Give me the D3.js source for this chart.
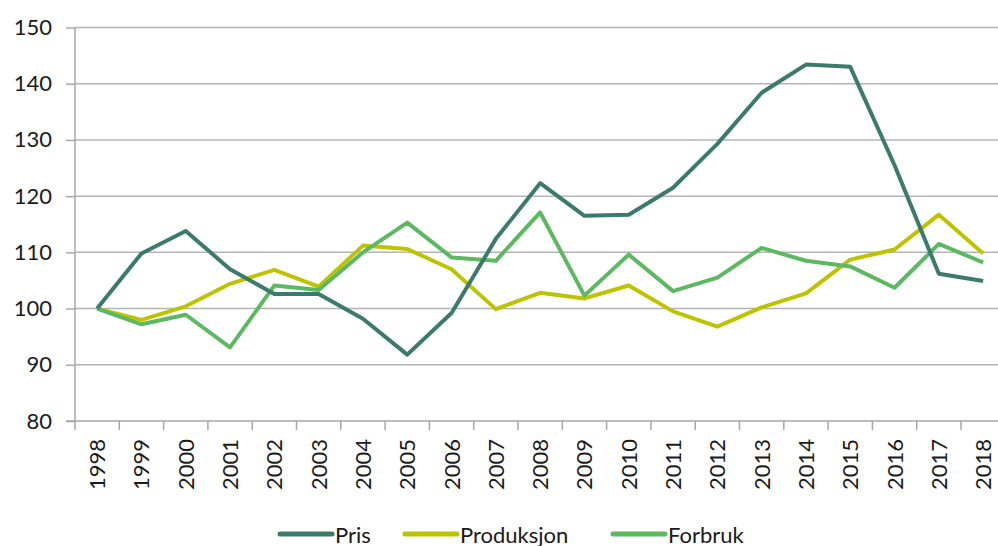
<!DOCTYPE html>
<html>
<head>
<meta charset="utf-8">
<script src="https://cdn.jsdelivr.net/npm/d3@7"></script>
<style>
  body { margin: 0; background: #fff; }
  svg text { font-family: Lato, "Noto Sans", sans-serif; fill: #1a1a1a; }
</style>
</head>
<body>
<div class="chart"></div>
<script>
var years = ["1998","1999","2000","2001","2002","2003","2004","2005","2006","2007","2008",
  "2009","2010","2011","2012","2013","2014","2015","2016","2017","2018"];

var pris = [100, 109.8, 113.8, 107.0, 102.6, 102.6, 98.2, 91.8, 99.2, 112.4, 122.3,
  116.5, 116.7, 121.5, 129.3, 138.4, 143.4, 143.0, 125.5, 106.2, 104.9];
var produksjon = [100, 98.0, 100.4, 104.4, 106.9, 103.9, 111.2, 110.6, 107.0, 99.9, 102.8,
  101.8, 104.1, 99.5, 96.8, 100.2, 102.7, 108.7, 110.5, 116.7, 109.8];
var forbruk = [100, 97.2, 98.9, 93.1, 104.1, 103.3, 110.0, 115.3, 109.1, 108.5, 117.1,
  102.3, 109.6, 103.1, 105.5, 110.8, 108.5, 107.5, 103.7, 111.5, 108.2];

var yTicks = [80, 90, 100, 110, 120, 130, 140, 150];

var seriesNames = ["Pris", "Produksjon", "Forbruk"];
var seriesColors = ["#3b7a6c", "#bec300", "#5db862"];

var width = 998, height = 546;
var plotLeft = 75, plotTop = 27.5, plotBottom = 421;
var step = 44.3;

var svg = d3.select(".chart")
  .append("svg")
  .attr("width", width)
  .attr("height", height);

var x = d3.scaleBand()
  .domain(years)
  .range([plotLeft, plotLeft + step * years.length]);

var y = d3.scaleLinear()
  .domain([80, 150])
  .range([plotBottom, plotTop]);

// gridlines
svg.append("g")
  .selectAll("line")
  .data(yTicks.slice(1))
  .enter().append("line")
  .attr("x1", plotLeft)
  .attr("x2", width)
  .attr("y1", d => y(d))
  .attr("y2", d => y(d))
  .attr("stroke", "#b3b3b3")
  .attr("stroke-width", 1.5);

// y axis
var yAxis = svg.append("g")
  .attr("transform", "translate(" + plotLeft + ",0)")
  .call(d3.axisLeft(y).tickValues(yTicks).tickSize(9).tickPadding(14));
yAxis.select(".domain").attr("stroke", "#a6a6a6").attr("stroke-width", 1.5)
  .attr("d", "M0," + y(150) + "V" + (plotBottom + 9));
yAxis.selectAll(".tick line").attr("stroke", "#a6a6a6").attr("stroke-width", 1.5);
yAxis.selectAll("text").style("font-size", "22px").attr("fill", "#1a1a1a");

// x axis: ticks between categories
var xg = svg.append("g");
xg.append("line")
  .attr("x1", plotLeft - 9).attr("x2", width)
  .attr("y1", plotBottom).attr("y2", plotBottom)
  .attr("stroke", "#a6a6a6").attr("stroke-width", 1.5);
xg.selectAll(".xt")
  .data(years)
  .enter().append("line")
  .attr("class", "xt")
  .attr("x1", d => x(d) + x.bandwidth())
  .attr("x2", d => x(d) + x.bandwidth())
  .attr("y1", plotBottom).attr("y2", plotBottom + 9)
  .attr("stroke", "#a6a6a6").attr("stroke-width", 1.5);
xg.selectAll("text")
  .data(years)
  .enter().append("text")
  .attr("transform", d => "translate(" + (x(d) + x.bandwidth() / 2 + 8) + "," + (plotBottom + 18) + ") rotate(-90)")
  .attr("text-anchor", "end")
  .style("font-size", "22px")
  .text(d => d);

// lines
var line = d3.line()
  .x((d, i) => x(years[i]) + x.bandwidth() / 2)
  .y(d => y(d));

var allSeries = [pris, produksjon, forbruk];
[1, 2, 0].forEach(function (k) {
  svg.append("path")
    .datum(allSeries[k])
    .attr("fill", "none")
    .attr("stroke", seriesColors[k])
    .attr("stroke-width", 4)
    .attr("stroke-linejoin", "round")
    .attr("d", line);
});

// legend
var legendX = [280, 405, 613];
var leg = svg.append("g").selectAll("g")
  .data(seriesNames)
  .enter().append("g")
  .attr("transform", (d, i) => "translate(" + legendX[i] + ",534)");
leg.append("line")
  .attr("x1", 0).attr("x2", 52)
  .attr("stroke", (d, i) => seriesColors[i])
  .attr("stroke-width", 5)
  .attr("stroke-linecap", "round");
leg.append("text")
  .attr("x", 55)
  .attr("y", 9)
  .style("font-size", "22px")
  .text(d => d);
</script>
</body>
</html>
